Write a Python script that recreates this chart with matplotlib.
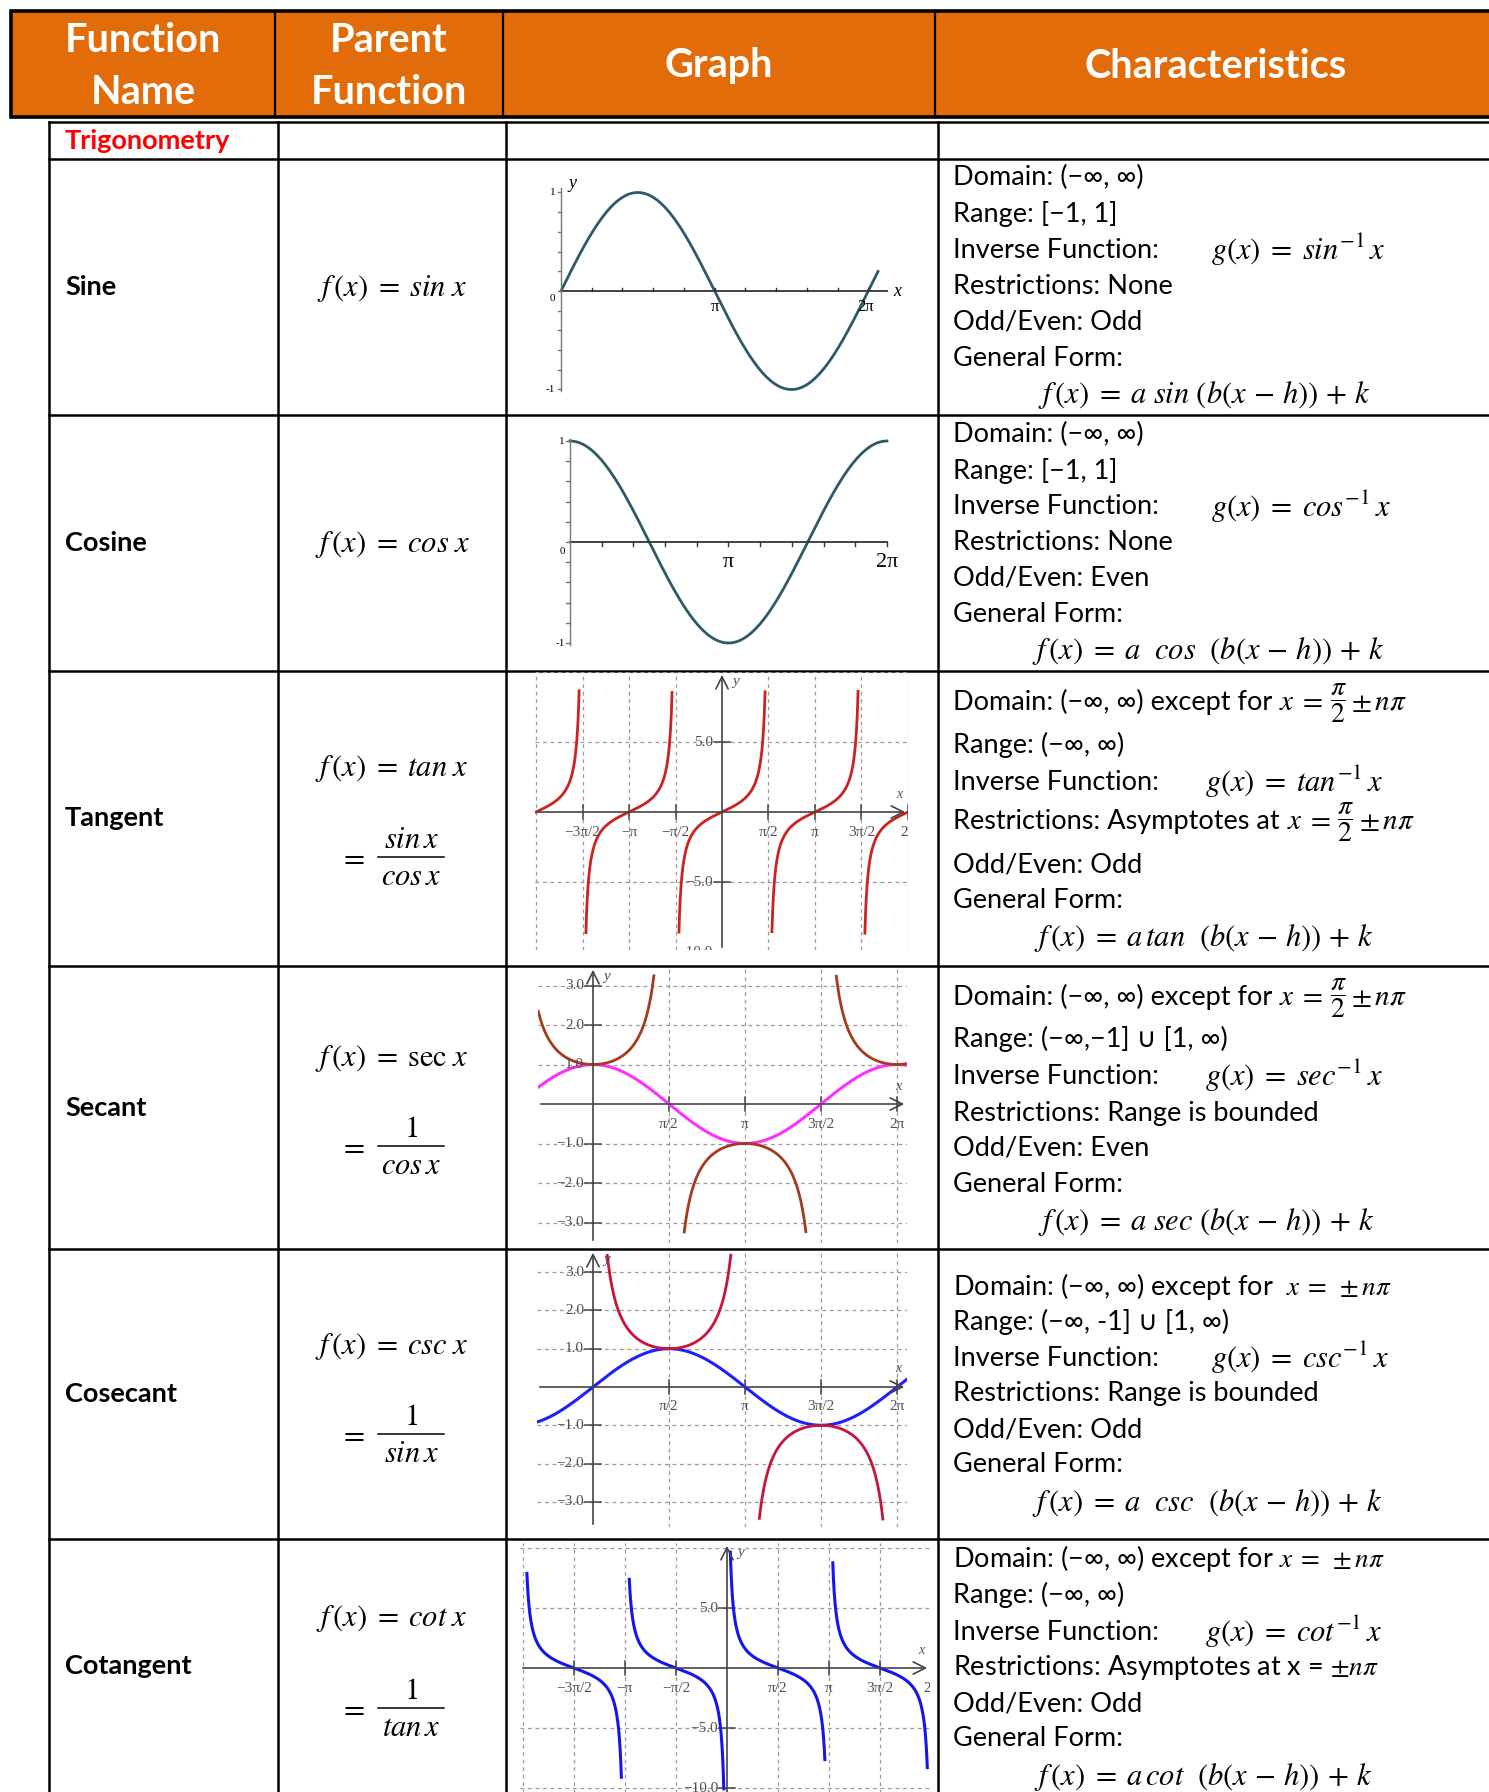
import numpy as np
import matplotlib
matplotlib.use('Agg')
import matplotlib.pyplot as plt
from matplotlib.patches import Rectangle

plt.rcParams['font.family'] = ['Lato', 'DejaVu Sans']
plt.rcParams['mathtext.fontset'] = 'stix'

W, H = 1489, 1792
PI = np.pi

# ---- table layout (pixel positions) ----
header_cols = [11, 275, 503, 935]
header_x = [143, 389, 719, 1216]
headers = ['Function\nName', 'Parent\nFunction', 'Graph', 'Characteristics']
body_cols = [49, 278, 506, 938]
row_lines = [122, 159, 415, 671, 966, 1249, 1539]

names = ['Sine', 'Cosine', 'Tangent', 'Secant', 'Cosecant', 'Cotangent']
parent_top = [r'$f\,(x)\;=\;sin\;x$', r'$f\,(x)\;=\;cos\;x$', r'$f\,(x)\;=\;tan\;x$',
              r'$f\,(x)\;=\;\mathrm{sec}\;x$', r'$f\,(x)\;=\;csc\;x$', r'$f\,(x)\;=\;cot\;x$']
parent_y = [288, 544, 769, 1058, 1346, 1618]
frac_num = [None, None, r'$sin\,x$', r'$1$', r'$1$', r'$1$']
frac_den = [None, None, r'$cos\,x$', r'$cos\,x$', r'$sin\,x$', r'$tan\,x$']
frac_y = [None, None, 857, 1146, 1434, 1708]

# domain / restriction lines; a tuple means "text, math, small fraction, math"
half_pi = (r'$x\;=$', r'$\dfrac{\pi}{2}$', r'$\pm\,n\pi$')
domain_txt = ['Domain: (−∞, ∞)', 'Domain: (−∞, ∞)',
              ('Domain: (−∞, ∞) except for',) + half_pi,
              ('Domain: (−∞, ∞) except for',) + half_pi,
              r'Domain: (−∞, ∞) except for  $x\;=\;\pm n\pi$',
              r'Domain: (−∞, ∞) except for $x\;=\;\pm n\pi$']
range_txt = ['Range: [−1, 1]', 'Range: [−1, 1]', 'Range: (−∞, ∞)',
             'Range: (−∞,−1] ∪ [1, ∞)', 'Range: (−∞, -1] ∪ [1, ∞)', 'Range: (−∞, ∞)']
inverse_txt = [r'$g(x)\;=\;sin^{-1}\,x$', r'$g(x)\;=\;cos^{-1}\,x$', r'$g(x)\;=\;tan^{-1}\,x$',
               r'$g(x)\;=\;sec^{-1}\,x$', r'$g(x)\;=\;csc^{-1}\,x$', r'$g(x)\;=\;cot^{-1}\,x$']
inverse_x = [1211, 1211, 1205, 1205, 1211, 1205]
restrict_txt = ['Restrictions: None', 'Restrictions: None',
                ('Restrictions: Asymptotes at',) + half_pi,
                'Restrictions: Range is bounded', 'Restrictions: Range is bounded',
                r'Restrictions: Asymptotes at x = $\pm n\pi$']
oddeven_txt = ['Odd/Even: Odd', 'Odd/Even: Even', 'Odd/Even: Odd',
               'Odd/Even: Even', 'Odd/Even: Odd', 'Odd/Even: Odd']
general_txt = [r'$f\,(x)\;=\;a\ sin\ \left(b(x\,-\,h)\right)\,+\,k$',
               r'$f\,(x)\;=\;a\ \ cos\ \ \left(b(x\,-\,h)\right)\,+\,k$',
               r'$f\,(x)\;=\;a\,tan\ \ \left(b(x\,-\,h)\right)\,+\,k$',
               r'$f\,(x)\;=\;a\ sec\ \left(b(x\,-\,h)\right)\,+\,k$',
               r'$f\,(x)\;=\;a\ \ csc\ \ \left(b(x\,-\,h)\right)\,+\,k$',
               r'$f\,(x)\;=\;a\,cot\ \ \left(b(x\,-\,h)\right)\,+\,k$']
general_x = [1038, 1032, 1034, 1038, 1032, 1034]
char_y = [[177, 214, 250, 286, 322, 358, 395],
          [434, 471, 507, 543, 578, 614, 651],
          [703, 745, 782, 822, 865, 900, 938],
          [998, 1039, 1076, 1113, 1148, 1184, 1222],
          [1286, 1322, 1358, 1394, 1430, 1465, 1503],
          [1559, 1595, 1632, 1667, 1704, 1739, 1777]]

# ---- graph settings: pixel box, origin pixel, px per unit (x, y) ----
sin_box, sin_org, sin_scl = (528, 168, 905, 405), (561, 291), (48.9, 98.5)
cos_box, cos_org, cos_scl = (535, 425, 915, 660), (570, 542), (50.45, 101)
tan_box, tan_org, tan_scl = (535, 672, 908, 950), (722, 812), (29.6, 14)
sec_box, sec_org, sec_scl = (538, 967, 907, 1243), (593, 1104), (48.4, 39.5)
csc_box, csc_org, csc_scl = (537, 1250, 907, 1527), (593, 1387), (48.4, 38.3)
cot_box, cot_org, cot_scl = (520, 1543, 930, 1800), (727, 1668), (32.5, 12)

tan_clip = 8.7
cot_branch_top = [8.0, 7.4, 9.7, 8.8]
cot_branch_bottom = [-9.1, -10.1, -7.7, -8.4]
sec_clip = 3.25
csc_clip = 3.45
wave_range = [-1.13, 6.49]

pi_half_labels = ['−3π/2', '−π', '−π/2', 'π/2', 'π', '3π/2', '2π']
pi_half_pos = [-3, -2, -1, 1, 2, 3, 4]
sec_x_labels = ['π/2', 'π', '3π/2', '2π']
sec_y_vals = [3, 2, 1, -1, -2, -3]
tan_y_vals = [5, -5, -10]

ORANGE = '#E26C0A'
GRID = '#9a9a9a'
AXC = '#444444'
LBL = '#505050'
SERIF = ['Liberation Serif', 'DejaVu Serif']
TXT = 19.5
MATH = 22

fig = plt.figure(figsize=(W / 100, H / 100), dpi=100)
ax = fig.add_axes([0, 0, 1, 1])
ax.set_xlim(0, W)
ax.set_ylim(H, 0)
ax.axis('off')
renderer = fig.canvas.get_renderer()


def char_line(x, y, item):
    # plain string, or (text, math, fraction, math) drawn piece by piece
    if isinstance(item, str):
        ax.text(x, y, item, fontsize=TXT, va='center')
        return
    base = y + 7
    sizes = [TXT, MATH - 1, 20, MATH - 1]
    gaps = [7, 6, 5, 0]
    for k, (s, size, gap) in enumerate(zip(item, sizes, gaps)):
        if k == 2:
            t = ax.text(x, base - 7, s, fontsize=size, va='center')
        else:
            t = ax.text(x, base, s, fontsize=size, va='baseline')
        x += t.get_window_extent(renderer).width + gap


# header
ax.add_patch(Rectangle((11, 11), W, 106, facecolor=ORANGE, edgecolor='black', lw=2.6))
for x in header_cols[1:]:
    ax.plot([x, x], [11, 117], color='black', lw=1.6)
for hx, txt in zip(header_x, headers):
    ax.text(hx, 66, txt, color='white', fontsize=28.5, fontweight='bold',
            ha='center', va='center', linespacing=1.5)

# body grid
for x in body_cols:
    ax.plot([x, x], [122, H + 5], color='black', lw=1.8)
for y in row_lines:
    ax.plot([49, W + 5], [y, y], color='black', lw=1.8)

ax.text(65, 141, 'Trigonometry', color='#ff0000', fontsize=TXT, fontweight='bold', va='center')

for i, name in enumerate(names):
    cy = (row_lines[i + 1] + (row_lines[i + 2] if i + 2 < len(row_lines) else H)) / 2
    ax.text(65, cy, name, fontsize=TXT, fontweight='bold', va='center')
    ax.text(392, parent_y[i], parent_top[i], fontsize=MATH, ha='center', va='center')
    if frac_num[i]:
        fy = frac_y[i]
        ax.text(352, fy, r'$=$', fontsize=MATH, ha='center', va='center')
        ax.plot([378, 444], [fy, fy], color='black', lw=1.1)
        ax.text(411, fy - 4, frac_num[i], fontsize=MATH, ha='center', va='bottom')
        ax.text(411, fy + 5, frac_den[i], fontsize=MATH, ha='center', va='top')
    ys = char_y[i]
    char_line(953, ys[0], domain_txt[i])
    char_line(953, ys[1], range_txt[i])
    char_line(953, ys[2], 'Inverse Function:')
    ax.text(inverse_x[i], ys[2], inverse_txt[i], fontsize=MATH, va='center')
    char_line(953, ys[3], restrict_txt[i])
    char_line(953, ys[4], oddeven_txt[i])
    char_line(953, ys[5], 'General Form:')
    ax.text(general_x[i], ys[6], general_txt[i], fontsize=MATH, va='center')


def graph_axes(box, org, scl):
    x0, y0, x1, y1 = box
    ox, oy = org
    sx, sy = scl
    g = fig.add_axes([x0 / W, 1 - y1 / H, (x1 - x0) / W, (y1 - y0) / H])
    g.set_xlim((x0 - ox) / sx, (x1 - ox) / sx)
    g.set_ylim((oy - y1) / sy, (oy - y0) / sy)
    g.axis('off')
    return g


def grid_frame(g, scl, xgrid, ygrid, xlab, ylab, ylab_fmt):
    sx, sy = scl
    xl, yl = g.get_xlim(), g.get_ylim()
    for v in xgrid:
        g.axvline(v, color=GRID, ls=(0, (3, 3)), lw=0.9, zorder=1)
    for v in ygrid:
        g.axhline(v, color=GRID, ls=(0, (3, 3)), lw=0.9, zorder=1)
    g.annotate('', xy=(xl[1], 0), xytext=(xl[0], 0),
               arrowprops=dict(arrowstyle='->', color=AXC, lw=1.2, mutation_scale=22))
    g.annotate('', xy=(0, yl[1]), xytext=(0, yl[0]),
               arrowprops=dict(arrowstyle='->', color=AXC, lw=1.2, mutation_scale=22))
    for (pos, lab) in xlab:
        g.plot([pos, pos], [-7 / sy, 7 / sy], color=AXC, lw=1.1)
        g.text(pos, -20 / sy, lab, fontsize=11, family=SERIF, color=LBL,
               ha='center', va='center', clip_on=True)
    for v in ylab:
        g.plot([-8 / sx, 8 / sx], [v, v], color=AXC, lw=1.1)
        g.text(-9 / sx, v, ylab_fmt(v), fontsize=11, family=SERIF, color=LBL,
               ha='right', va='center', clip_on=True)
    g.text(xl[1] - 9 / sx, 18 / sy, 'x', fontsize=10, family=SERIF, color=LBL,
           ha='center', va='center', style='italic')
    g.text(14 / sx, yl[1] - 9 / sy, 'y', fontsize=11, family=SERIF, color=LBL,
           ha='center', va='center', style='italic')


def fmt1(v):
    return ('−' if v < 0 else '') + f'{abs(v):.1f}'


# ---- sine ----
g = graph_axes(sin_box, sin_org, sin_scl)
x = np.linspace(0, 2 * PI + 0.2, 500)
g.plot(x, np.sin(x), color='#2d5a68', lw=2)
g.plot([0, 6.67], [0, 0], color='#333333', lw=1.3)
g.plot([0, 0], [-1.02, 1.05], color='#777777', lw=1)
for k in range(1, 11):
    g.plot([k * PI / 5] * 2, [0, 0.035], color='#333333', lw=1)
for v in np.arange(-1, 1.01, 0.2):
    g.plot([-0.07, 0], [v, v], color='#777777', lw=1)
g.text(-0.12, 1, '1', fontsize=8, family=SERIF, ha='right', va='center')
g.text(-0.12, -0.08, '0', fontsize=8, family=SERIF, ha='right', va='center')
g.text(-0.12, -1, '-1', fontsize=8, family=SERIF, ha='right', va='center')
g.text(PI, -0.16, 'π', fontsize=12, family=SERIF, ha='center', va='center')
g.text(2 * PI - 0.05, -0.16, '2π', fontsize=12, family=SERIF, ha='center', va='center')
g.text(6.88, 0, 'x', fontsize=13, family=SERIF, style='italic', ha='center', va='center')
g.text(0.24, 1.09, 'y', fontsize=13, family=SERIF, style='italic', ha='center', va='center')

# ---- cosine ----
g = graph_axes(cos_box, cos_org, cos_scl)
x = np.linspace(0, 2 * PI, 500)
g.plot(x, np.cos(x), color='#2d5a68', lw=2)
g.plot([0, 2 * PI], [0, 0], color='#333333', lw=1.3)
g.plot([0, 0], [-1.02, 1.02], color='#777777', lw=1)
for k in range(1, 11):
    g.plot([k * PI / 5] * 2, [0, -0.035], color='#333333', lw=1)
for v in np.arange(-1, 1.01, 0.2):
    g.plot([-0.07, 0], [v, v], color='#777777', lw=1)
g.text(-0.1, 1, '1', fontsize=8, family=SERIF, ha='right', va='center')
g.text(-0.1, -0.09, '0', fontsize=8, family=SERIF, ha='right', va='center')
g.text(-0.1, -1, '-1', fontsize=8, family=SERIF, ha='right', va='center')
g.text(PI, -0.2, 'π', fontsize=16, family=SERIF, ha='center', va='center')
g.text(2 * PI, -0.2, '2π', fontsize=16, family=SERIF, ha='center', va='center')

# ---- tangent ----
g = graph_axes(tan_box, tan_org, tan_scl)
grid_frame(g, tan_scl, [k * PI / 2 for k in range(-4, 5) if k != 0], [10, 5, -5],
           [(p * PI / 2, l) for p, l in zip(pi_half_pos, pi_half_labels)], tan_y_vals, fmt1)
x = np.linspace(-2 * PI, 2 * PI, 6000)
y = np.tan(x)
y[np.abs(y) > tan_clip] = np.nan
g.plot(x, y, color='#cc2222', lw=2)

# ---- secant ----
g = graph_axes(sec_box, sec_org, sec_scl)
grid_frame(g, sec_scl, [k * PI / 2 for k in range(1, 5)], [3, 2, 1, -1, -2, -3],
           [(k * PI / 2, l) for k, l in zip(range(1, 5), sec_x_labels)], sec_y_vals, fmt1)
x = np.linspace(wave_range[0], wave_range[1], 4000)
y = 1 / np.cos(x)
y[np.abs(y) > sec_clip] = np.nan
g.plot(x, np.cos(x), color='#ff30ff', lw=2.2)
g.plot(x, y, color='#a33b1e', lw=2)

# ---- cosecant ----
g = graph_axes(csc_box, csc_org, csc_scl)
grid_frame(g, csc_scl, [k * PI / 2 for k in range(1, 5)], [3, 2, 1, -1, -2, -3],
           [(k * PI / 2, l) for k, l in zip(range(1, 5), sec_x_labels)], sec_y_vals, fmt1)
x = np.linspace(wave_range[0], wave_range[1], 4000)
with np.errstate(divide='ignore'):
    y = 1 / np.sin(x)
y[(np.abs(y) > csc_clip) | (x < 0) | (x > 2 * PI)] = np.nan
g.plot(x, np.sin(x), color='#1f1fff', lw=2.2)
g.plot(x, y, color='#c8143c', lw=2)

# ---- cotangent ----
g = graph_axes(cot_box, cot_org, cot_scl)
grid_frame(g, cot_scl, [k * PI / 2 for k in range(-4, 5) if k != 0], [10, 5, -5, -10],
           [(p * PI / 2, l) for p, l in zip(pi_half_pos, pi_half_labels)], tan_y_vals, fmt1)
for b, (top, bot) in enumerate(zip(cot_branch_top, cot_branch_bottom)):
    k = b - 2
    x = np.linspace(k * PI + 0.005, (k + 1) * PI - 0.005, 1500)
    y = 1 / np.tan(x)
    y[(y > top) | (y < bot)] = np.nan
    g.plot(x, y, color='#1515f0', lw=2.2)

fig.savefig('out.png', dpi=100)
